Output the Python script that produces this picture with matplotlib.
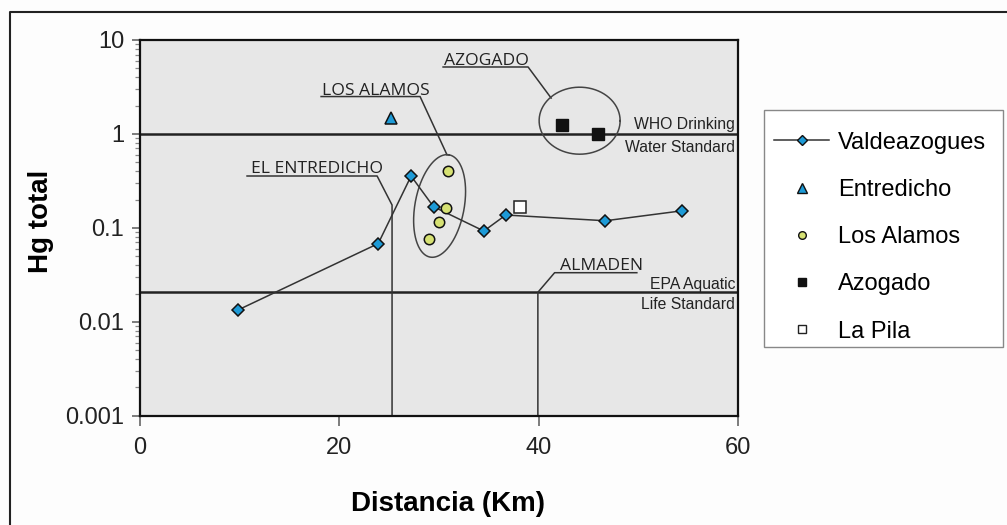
import numpy as np
import matplotlib
matplotlib.use("Agg")
import matplotlib.pyplot as plt
from matplotlib.lines import Line2D
from matplotlib.patches import Rectangle
from matplotlib.ticker import LogLocator, FixedLocator, NullFormatter

plt.rcParams['font.family'] = ['Liberation Sans', 'DejaVu Sans']

# ---- data ----
valde_x = [9.8, 23.9, 27.2, 29.45, 34.5, 36.7, 46.7, 54.4]
valde_y = [0.0133, 0.068, 0.356, 0.168, 0.0925, 0.137, 0.119, 0.152]
entre_x = [25.2]
entre_y = [1.47]
alamos_x = [30.95, 30.7, 29.95, 28.95]
alamos_y = [0.405, 0.161, 0.116, 0.077]
azog_x = [42.3, 45.95]
azog_y = [1.24, 1.01]
pila_x = [38.15]
pila_y = [0.168]
who_std = 1.0
epa_std = 0.0206
xticks = [0, 20, 40, 60]
yticks = [0.001, 0.01, 0.1, 1, 10]
yticklabels = ["0.001", "0.01", "0.1", "1", "10"]

BLUE = "#1d9ad6"
GREEN = "#d6e173"
DARK = "#222222"

W, H = 1007, 525
fig = plt.figure(figsize=(W / 100, H / 100), dpi=100, facecolor="#fdfdfd")
ax = fig.add_axes([140 / W, 1 - 415.7 / H, 598 / W, 375.7 / H])
ax.set_facecolor("#e7e7e7")
ax.set_yscale("log")
ax.set_xlim(0, 60)
ax.set_ylim(0.001, 10)

for s in ax.spines.values():
    s.set_linewidth(1.6)
    s.set_color("#111111")

ax.set_xticks(xticks)
ax.xaxis.set_minor_locator(FixedLocator([]))
ax.set_yticks(yticks)
ax.set_yticklabels(yticklabels)
ax.yaxis.set_minor_locator(LogLocator(base=10, subs=np.arange(2, 10)))
ax.yaxis.set_minor_formatter(NullFormatter())
ax.tick_params(axis="both", which="major", labelsize=17, color="#666666",
               labelcolor="#222222")
ax.tick_params(axis="y", which="major", length=5.5, width=1.2, pad=6)
ax.tick_params(axis="y", which="minor", length=3.5, width=0.9, color="#888888")
ax.tick_params(axis="x", which="major", length=7, width=1.2, pad=8)

ax.set_xlabel("Distancia (Km)", fontsize=20, fontweight="bold")
ax.xaxis.set_label_coords(0.515, -0.2)
ax.set_ylabel("Hg total", fontsize=20, fontweight="bold")
ax.yaxis.set_label_coords(-0.144, 0.517)

# standards
ax.axhline(who_std, color=DARK, lw=1.8, zorder=2)
ax.axhline(epa_std, color=DARK, lw=1.8, zorder=2)
tk = dict(fontsize=11.3, color="#222222", ha="right", va="baseline")
ax.text(59.7, 1.128, "WHO Drinking", **tk)
ax.text(59.7, 0.647, "Water Standard", **tk)
ax.text(59.7, 0.02234, "EPA Aquatic", **tk)
ax.text(59.7, 0.01358, "Life Standard", **tk)

# leader lines and labels
LC = "#333333"
lk = dict(color=LC, lw=1.1, zorder=2)
ann = dict(fontsize=12.6, family=["Open Sans", "DejaVu Sans"], color="#222222",
           va="baseline", ha="left")
# AZOGADO
ax.plot([30.41, 38.94, 41.25], [5.16, 5.16, 2.41], **lk)
ax.text(30.5, 5.45, "AZOGADO", **ann)
# LOS ALAMOS
ax.plot([18.17, 28.1, 30.81], [2.50, 2.50, 0.597], **lk)
ax.text(18.27, 2.62, "LOS ALAMOS", **ann)
# EL ENTREDICHO
ax.plot([10.74, 23.79, 25.29, 25.29], [0.3565, 0.3565, 0.175, 0.001], **lk)
ax.text(11.1, 0.38, "EL ENTREDICHO", **ann)
# ALMADEN
ax.plot([49.85, 41.6, 39.92, 39.92], [0.0333, 0.0333, epa_std, 0.001], **lk)
ax.text(42.16, 0.0358, "ALMADEN", **ann)


def ellipse(cx, cy, a_px, b_px, ang):
    t = np.linspace(0, 2 * np.pi, 300)
    c = ax.transData.transform((cx, cy))
    th = np.deg2rad(ang)
    ex = a_px * np.cos(t)
    ey = b_px * np.sin(t)
    px = c[0] + ex * np.cos(th) - ey * np.sin(th)
    py = c[1] + ex * np.sin(th) + ey * np.cos(th)
    d = ax.transData.inverted().transform(np.column_stack([px, py]))
    return d[:, 0], d[:, 1]


ex, ey = ellipse(30.06, 0.171, 52, 24.6, 79.5)
ax.plot(ex, ey, color="#444444", lw=1.1, zorder=3)
ex, ey = ellipse(44.11, 1.383, 40.5, 33.5, 0)
ax.plot(ex, ey, color="#444444", lw=1.1, zorder=3)

# data
ax.plot(valde_x, valde_y, color="#333333", lw=1.1, marker="D", ms=6.5,
        mfc=BLUE, mec="#111111", mew=1.1, zorder=5)
ax.plot(entre_x, entre_y, ls="none", marker="^", ms=9, mfc=BLUE,
        mec="#111111", mew=1.1, zorder=5)
ax.plot(alamos_x, alamos_y, ls="none", marker="o", ms=7.5, mfc=GREEN,
        mec="#111111", mew=1.1, zorder=5)
ax.plot(azog_x, azog_y, ls="none", marker="s", ms=8, mfc="#111111",
        mec="#111111", mew=1.0, zorder=5)
ax.plot(pila_x, pila_y, ls="none", marker="s", ms=8, mfc="white",
        mec="#222222", mew=1.1, zorder=5)

# legend frame (drawn separately for exact placement)
fig.add_artist(Rectangle((764 / W, 1 - 347 / H), 239 / W, 237 / H,
                         transform=fig.transFigure, facecolor="white",
                         edgecolor="#888888", lw=1.0, zorder=1))

handles = [
    Line2D([], [], color="#333333", lw=1.1, marker="D", ms=5, mfc=BLUE, mec="#111111"),
    Line2D([], [], ls="none", marker="^", ms=6.5, mfc=BLUE, mec="#111111"),
    Line2D([], [], ls="none", marker="o", ms=5.5, mfc=GREEN, mec="#111111"),
    Line2D([], [], ls="none", marker="s", ms=6, mfc="#111111", mec="#111111"),
    Line2D([], [], ls="none", marker="s", ms=6, mfc="white", mec="#222222"),
]
labels = ["Valdeazogues", "Entredicho", "Los Alamos", "Azogado", "La Pila"]
leg = fig.legend(handles, labels, loc="upper left",
                 bbox_to_anchor=(759.4 / W, 1 - 117 / H), bbox_transform=fig.transFigure,
                 fontsize=17, frameon=False, borderpad=0.62,
                 labelspacing=1.07, handlelength=2.33, handletextpad=0.38,
                 borderaxespad=0)
leg.set_zorder(6)

# outer frame
fig.add_artist(Line2D([9.5 / W, 9.5 / W, 1.0], [0, 1 - 12 / H, 1 - 12 / H],
                      transform=fig.transFigure, color="#222222", lw=1.5))

fig.savefig("out.png", dpi=100, facecolor=fig.get_facecolor())
